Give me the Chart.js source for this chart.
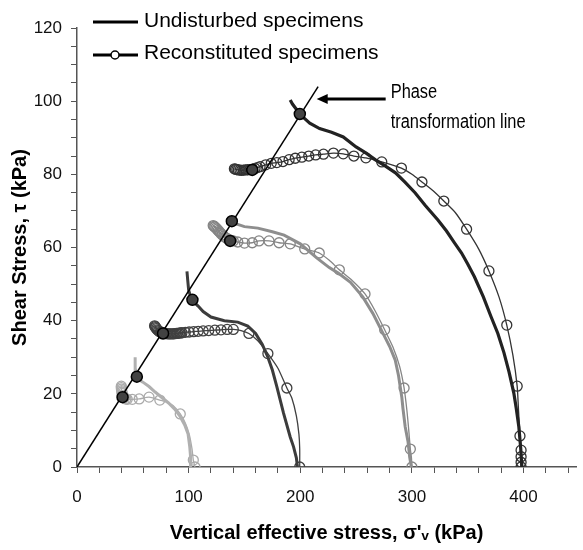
<!DOCTYPE html>
<html>
<head>
<meta charset="utf-8">
<script src="https://cdn.jsdelivr.net/npm/chart.js@4"></script>
<style>
  html, body { margin: 0; padding: 0; background: #fff; }
</style>
</head>
<body>
<canvas id="chart" width="583" height="550"></canvas>
<script>
function range(a, b) {
  const r = [];
  for (let i = a; i <= b; i++) r.push(i);
  return r;
}

// phase transformation line
const ptlX = [0, 216];
const ptlY = [0, 104];

// phase transformation points
const ptX = [40.8, 53.6, 77.1, 103.4, 137.2, 138.7, 157, 199.6];
const ptY = [19.1, 24.7, 36.5, 45.7, 61.8, 67.2, 81.2, 96.5];

// undisturbed specimens
const u100X = [102, 101.8, 101, 99.5, 96.5, 92, 87.5, 82, 76, 70, 64.5, 59, 55, 53.5, 52.5, 52.2, 52];
const u100Y = [0, 2.5, 5.5, 9, 11.5, 14, 15.8, 17.5, 19, 20.5, 22, 23.2, 24, 24.8, 26.5, 28.2, 30];

const u200X = [197.5, 196.5, 194, 191, 185, 179, 175, 171, 166, 160, 153, 144, 132, 120, 113, 108.5, 105, 103.4, 101.5, 100, 99.2, 98.5];
const u200Y = [0, 2.5, 5.5, 8.2, 14.7, 22, 26.5, 30, 33.5, 36.5, 38.5, 39.6, 40, 41, 42.5, 44, 45, 45.7, 46.8, 48.4, 51, 53.5];

const u300X = [299.5, 298, 296.5, 294, 292, 291, 288, 285, 280, 274, 265, 256, 245, 234, 226, 215, 200, 185.5, 175, 162, 150, 142, 138.7, 136, 134];
const u300Y = [0, 2.7, 7, 11, 16, 19, 25, 29.3, 33, 36.6, 42, 46.5, 50.5, 53, 54.5, 57.1, 61, 63.4, 64.3, 65.3, 65.7, 66.5, 67.2, 67.6, 68];

const u400X = [398.5, 397.5, 395.8, 393.5, 391.3, 387, 382.5, 377, 371, 364, 356, 350, 344.5, 338.3, 331, 323.3, 312, 303, 294, 285.3, 276, 267.7, 259, 250, 238.5, 228, 217.3, 208.5, 203, 199.6, 196, 193, 191];
const u400Y = [0, 5, 11, 16, 20.2, 26, 31.2, 36.5, 41, 46.5, 52, 55.5, 58.5, 61.2, 64.5, 67.5, 71.5, 74.9, 77.8, 80.4, 82.3, 83.9, 85.8, 87.5, 90.2, 91.5, 92.5, 94, 95.5, 96.5, 98, 99.2, 100.3];

// reconstituted specimens (marks = indices of the points carrying a marker)
const r100X = [105.7, 104.2, 103, 100.5, 97, 92.5, 86, 80, 74.2, 64.5, 55.7, 49.5, 45, 43.8, 42.5, 41.7, 41, 40.5, 40.2, 40, 39.8, 39.7, 39.7];
const r100Y = [0, 1.9, 5, 9, 12, 14.5, 16.8, 17.8, 18.3, 19.1, 18.6, 18.5, 18.5, 18.6, 18.9, 19.2, 19.6, 20.1, 20.5, 20.9, 21.3, 21.7, 22.1];
const r100Marks = [0, 1, 5, 8, 9, 10, 11, ...range(12, 22)];

const r200X = [199.5, 199.5, 198.8, 196.5, 192.5, 188, 180, 171, 162, 154, 147, 140, 134.5, 129, 123.5, 118, 113, 108.5, 104.5, 100.5, 97,
  94, 92.7, 91.5, 90.2, 89, 87.7, 86.5, 85.2, 84, 82.7, 81.5, 80.2, 79, 77.7, 76.5, 75.2, 74, 73, 72, 71.2, 70.5, 70, 69.5];
const r200Y = [0, 5, 9, 14, 18.8, 21.6, 27, 31, 34.5, 36.5, 37.3, 37.6, 37.6, 37.5, 37.4, 37.3, 37.2, 37.1, 37, 36.9, 36.8,
  36.7, 36.65, 36.6, 36.55, 36.5, 36.45, 36.4, 36.4, 36.4, 36.4, 36.4, 36.45, 36.5, 36.6, 36.7, 36.85, 37, 37.25, 37.5, 37.8, 38.1, 38.35, 38.6];
const r200Marks = [0, 5, 7, 9, ...range(11, 43)];

const r300X = [300, 299.6, 298.6, 297.2, 295.5, 293, 289, 283, 275.6, 267, 258, 246.5, 235, 226, 217, 210.5, 204, 191, 181, 172, 163, 157, 150, 144,
  140, 138.2, 136.5, 134.7, 133, 131.5, 130, 128.7, 127.5, 126.5, 125.5, 124.5, 123.5, 122.7, 122];
const r300Y = [0, 2.5, 4.9, 10, 15.5, 21.6, 27.5, 32.8, 37.5, 42.7, 47.3, 51, 53.9, 56.5, 58.5, 59.1, 59.6, 61, 61.3, 61.8, 61.8, 61.3, 61.2, 61.5,
  61.8, 61.95, 62.1, 62.4, 62.7, 63.1, 63.5, 63.9, 64.3, 64.65, 65, 65.3, 65.6, 65.8, 66];
const r300Marks = [0, 2, 5, 8, 10, 12, 14, ...range(16, 38)];

const r400X = [397.8, 397.8, 397.8, 397.8, 396.8, 395.6, 394.3, 390.5, 385, 378, 369, 360, 349, 339, 328.6, 319, 309, 300, 290.6, 273, 258.8, 248, 238.5, 229.7,
  220.8, 213.8, 207.6, 201.4, 195.5, 190, 184.5, 179, 174, 169, 164, 161.7, 159.5, 157.2, 155, 153, 151, 149.2, 147.5, 146, 144.5, 143.2, 142, 141];
const r400Y = [0, 1.3, 2.8, 4.6, 8.5, 15, 22.1, 30.5, 38.8, 46.5, 53.6, 59.5, 65, 69.5, 72.7, 75.5, 77.9, 80, 81.7, 83.4, 84.5, 85, 85.6, 85.8,
  85.5, 85.3, 85, 84.7, 84.4, 84, 83.5, 83.2, 83, 82.6, 82.1, 81.85, 81.6, 81.45, 81.3, 81.25, 81.2, 81.15, 81.1, 81.15, 81.2, 81.3, 81.4, 81.5];
const r400Marks = [0, 1, 2, 3, 4, 6, 8, 10, 12, 14, 16, ...range(18, 47)];

const xTicks = [0, 100, 200, 300, 400];
const yTicks = [0, 20, 40, 60, 80, 100, 120];

const FONT = "'Liberation Sans', Arial, sans-serif";

function pts(xs, ys) {
  return xs.map((x, i) => ({ x: x, y: ys[i] }));
}

function undisturbed(xs, ys, color, width) {
  return {
    data: pts(xs, ys),
    showLine: true,
    borderColor: color,
    borderWidth: width,
    pointRadius: 0,
    tension: 0
  };
}

function reconstituted(xs, ys, marks, color) {
  return {
    data: pts(xs, ys),
    showLine: true,
    borderColor: color,
    borderWidth: 1.3,
    tension: 0.2,
    pointStyle: 'circle',
    pointRadius: ctx => marks.includes(ctx.dataIndex) ? 5 : 0,
    pointBorderWidth: 1.3,
    pointBorderColor: color,
    pointBackgroundColor: 'rgba(0,0,0,0)'
  };
}

const overlay = {
  id: 'overlay',
  afterDraw(chart) {
    const c = chart.ctx;
    const xs = chart.scales.x, ys = chart.scales.y;
    c.save();

    // legend
    c.strokeStyle = '#000';
    c.lineWidth = 3;
    c.beginPath(); c.moveTo(93, 22); c.lineTo(138, 22); c.stroke();
    c.beginPath(); c.moveTo(93, 55); c.lineTo(138, 55); c.stroke();
    c.lineWidth = 1.5;
    c.fillStyle = '#fff';
    c.beginPath(); c.arc(115, 55, 4, 0, Math.PI * 2); c.fill(); c.stroke();
    c.fillStyle = '#000';
    c.font = '21px ' + FONT;
    c.textBaseline = 'alphabetic';
    c.textAlign = 'left';
    c.fillText('Undisturbed specimens', 144, 27);
    c.fillText('Reconstituted specimens', 144, 59);

    // arrow to the phase transformation line
    const tip = xs.getPixelForValue(214.7);
    const tail = xs.getPixelForValue(276.5);
    const ay = ys.getPixelForValue(100.6);
    c.lineWidth = 3;
    c.beginPath(); c.moveTo(tail, ay); c.lineTo(tip + 8, ay); c.stroke();
    c.beginPath();
    c.moveTo(tip, ay); c.lineTo(tip + 11, ay - 5); c.lineTo(tip + 11, ay + 5);
    c.closePath(); c.fill();

    // condensed label
    c.font = '20px ' + FONT;
    const tx = xs.getPixelForValue(281);
    const lines = [['Phase', 100.9], ['transformation line', 92.7]];
    lines.forEach(([t, v]) => {
      c.save();
      c.translate(tx, ys.getPixelForValue(v));
      c.scale(0.82, 1);
      c.fillText(t, 0, 0);
      c.restore();
    });
    c.restore();
  }
};

Chart.defaults.font.family = FONT;
Chart.defaults.color = '#111';

new Chart(document.getElementById('chart'), {
  type: 'scatter',
  data: {
    datasets: [
      {
        data: pts(ptX, ptY),
        pointRadius: 5.5,
        pointBackgroundColor: '#424242',
        pointBorderColor: '#000',
        pointBorderWidth: 1.5
      },
      {
        data: pts(ptlX, ptlY),
        showLine: true,
        borderColor: '#000',
        borderWidth: 1.5,
        pointRadius: 0
      },
      undisturbed(u100X, u100Y, '#b0b0b0', 3),
      reconstituted(r100X, r100Y, r100Marks, '#aaaaaa'),
      undisturbed(u200X, u200Y, '#3c3c3c', 3),
      reconstituted(r200X, r200Y, r200Marks, '#404040'),
      undisturbed(u300X, u300Y, '#8e8e8e', 3),
      reconstituted(r300X, r300Y, r300Marks, '#858585'),
      undisturbed(u400X, u400Y, '#222222', 3.2),
      reconstituted(r400X, r400Y, r400Marks, '#333333')
    ]
  },
  options: {
    responsive: false,
    animation: false,
    events: [],
    layout: { padding: { top: 28, right: 0, left: 0, bottom: 0 } },
    plugins: {
      legend: { display: false },
      tooltip: { enabled: false }
    },
    scales: {
      x: {
        type: 'linear',
        min: 0,
        max: 447,
        afterBuildTicks: s => {
          const t = [];
          for (let v = 0; v <= 440; v += 20) t.push({ value: v });
          s.ticks = t;
        },
        afterFit: s => { s.height = 83; },
        ticks: {
          autoSkip: false,
          maxRotation: 0,
          padding: 14,
          font: { size: 17 },
          callback: v => xTicks.includes(v) ? String(v) : ''
        },
        grid: { drawOnChartArea: false, tickLength: 6, color: '#555', lineWidth: 1 },
        border: { color: '#555', width: 1.5 },
        title: {
          display: true,
          text: "Vertical effective stress, σ'ᵥ (kPa)",
          font: { size: 20, weight: 'bold' },
          color: '#000',
          padding: { top: 0, bottom: 5 }
        }
      },
      y: {
        min: 0,
        max: 120,
        afterBuildTicks: s => {
          const t = [];
          for (let v = 0; v <= 120; v += 5) t.push({ value: v });
          s.ticks = t;
        },
        afterFit: s => { s.width = 77; },
        ticks: {
          autoSkip: false,
          padding: 9,
          font: { size: 17 },
          callback: v => yTicks.includes(v) ? String(v) : ''
        },
        grid: { drawOnChartArea: false, tickLength: 6, color: '#555', lineWidth: 1 },
        border: { color: '#555', width: 1.5 },
        title: {
          display: true,
          text: 'Shear Stress, τ (kPa)',
          font: { size: 20, weight: 'bold' },
          color: '#000',
          padding: { top: 8, bottom: 0 }
        }
      }
    }
  },
  plugins: [overlay]
});
</script>
</body>
</html>
